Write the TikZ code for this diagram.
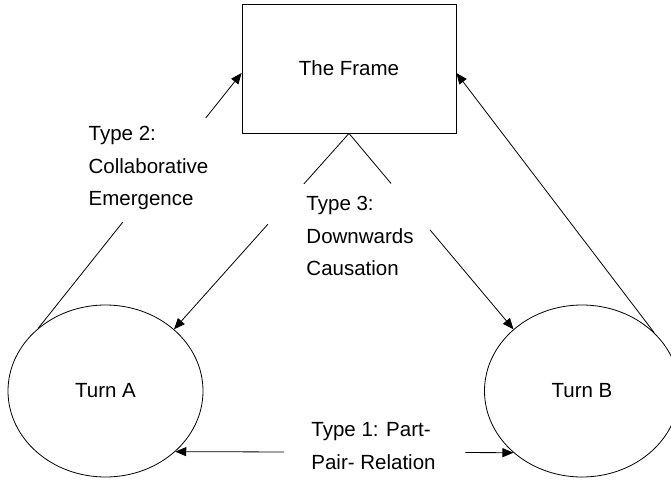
\documentclass[tikz,border=0pt]{standalone}
\usepackage{fontspec}
\setmainfont{Liberation Sans}
\usetikzlibrary{shapes.geometric,arrows.meta}
\begin{document}
\begin{tikzpicture}[x=1pt,y=-1pt,
  font=\fontsize{20.5}{32.5}\selectfont,
  conn/.style={line width=0.8pt},
  tip/.style={conn,-{Triangle[length=11pt,width=9pt]}},
  turn/.style={ellipse,draw,line width=0.8pt,minimum width=195pt,minimum height=172pt,inner sep=0pt},
  lab/.style={align=left,inner sep=0pt}]
\useasboundingbox (0,0) rectangle (671,481);
\clip (0,0) rectangle (671,481);
\node[draw,line width=0.8pt,minimum width=214pt,minimum height=129pt] (F) at (349,68.5) {The Frame};
\node[turn] (A) at (105.5,391) {Turn A};
\node[turn] (B) at (582,391) {Turn B};
\node[lab] (L2) at (148.5,168) {Type 2:\\Collaborative\\Emergence};
\node[lab] (L3) at (360,236) {Type 3:\\Downwards\\Causation};
\node[lab] (L1) at (373.5,446) {Type 1: Part-\\Pair- Relation};
% Type 1
\path (A.-41.6) -- coordinate[pos=0.322](g1a) coordinate[pos=0.858](g1b) (B.-138.4);
\draw[tip] (g1a) -- (A.-41.6);
\draw[tip] (g1b) -- (B.-138.4);
% Type 2
\path (A.137) -- coordinate[pos=0.416](g2a) coordinate[pos=0.824](g2b) ([yshift=-4.5pt]F.west);
\draw[conn] (A.137) -- (g2a);
\draw[tip] (g2b) -- ([yshift=-4.5pt]F.west);
\draw[tip] (B.39) -- ([yshift=-4.5pt]F.east);
% Type 3
\path (F.south) -- coordinate[pos=0.258](g3a) coordinate[pos=0.464](g3b) (A.42);
\draw[conn] (F.south) -- (g3a);
\draw[tip] (g3b) -- (A.42);
\path (F.south) -- coordinate[pos=0.256](g3c) coordinate[pos=0.492](g3d) (B.138);
\draw[conn] (F.south) -- (g3c);
\draw[tip] (g3d) -- (B.138);
\end{tikzpicture}
\end{document}
